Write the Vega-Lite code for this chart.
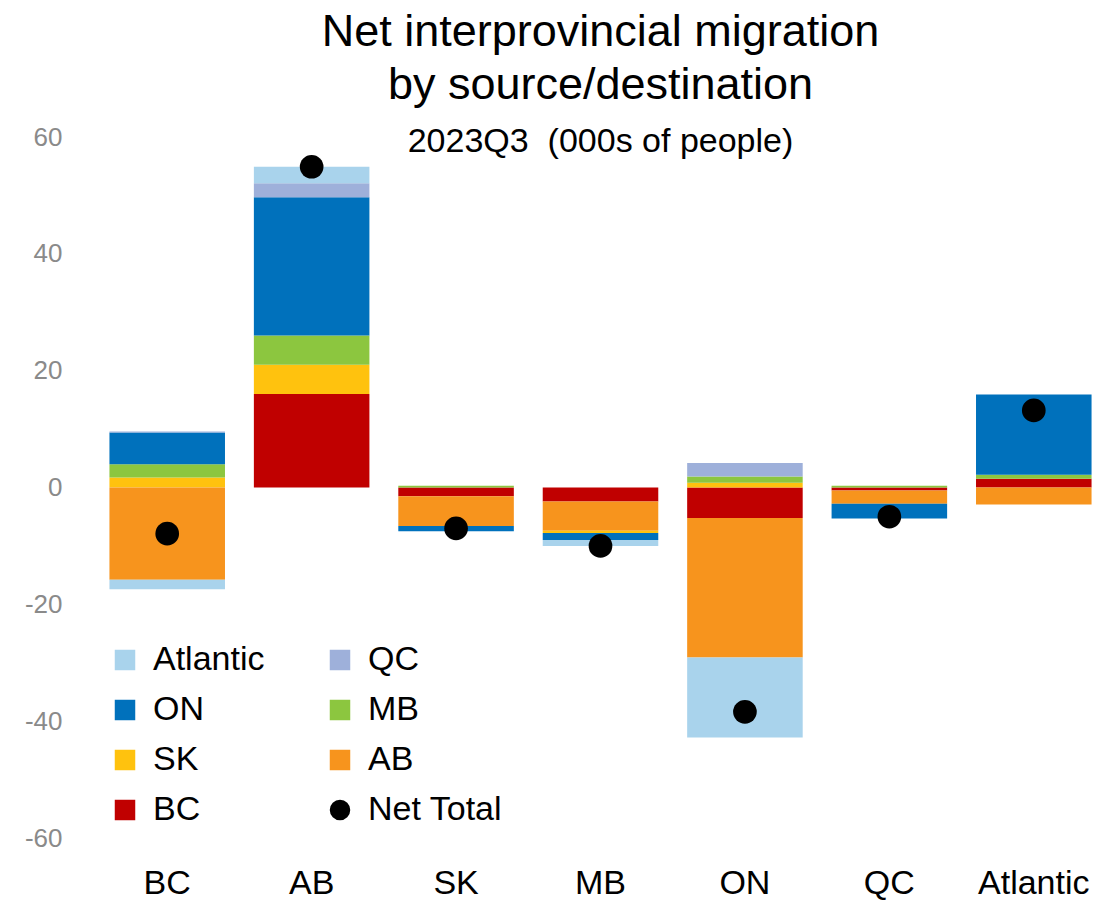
{
  "$schema": "https://vega.github.io/schema/vega-lite/v6.json",
  "width": 1011,
  "height": 701,
  "autosize": {"type": "none"},
  "padding": {"left": 95, "top": 137, "right": 13, "bottom": 69},
  "background": "white",
  "config": {
    "view": {"stroke": null},
    "font": "Liberation Sans"
  },
  "title": {
    "text": ["Net interprovincial migration", "by source/destination"],
    "subtitle": "2023Q3\u00a0 (000s of people)",
    "anchor": "middle",
    "frame": "group",
    "fontSize": 45,
    "fontWeight": "normal",
    "lineHeight": 53,
    "color": "black",
    "subtitleFontSize": 34,
    "subtitleColor": "black",
    "subtitlePadding": 17,
    "offset": -35
  },
  "datasets": {
    "flows": [
      {"prov": "BC", "series": "SK", "value": 1.7, "rank": 3},
      {"prov": "BC", "series": "MB", "value": 2.3, "rank": 4},
      {"prov": "BC", "series": "ON", "value": 5.4, "rank": 5},
      {"prov": "BC", "series": "QC", "value": 0.2, "rank": 6},
      {"prov": "BC", "series": "AB", "value": -15.8, "rank": 2},
      {"prov": "BC", "series": "Atlantic", "value": -1.6, "rank": 7},
      {"prov": "AB", "series": "BC", "value": 16.0, "rank": 1},
      {"prov": "AB", "series": "SK", "value": 5.0, "rank": 3},
      {"prov": "AB", "series": "MB", "value": 5.0, "rank": 4},
      {"prov": "AB", "series": "ON", "value": 23.7, "rank": 5},
      {"prov": "AB", "series": "QC", "value": 2.4, "rank": 6},
      {"prov": "AB", "series": "Atlantic", "value": 2.8, "rank": 7},
      {"prov": "SK", "series": "BC", "value": -1.5, "rank": 1},
      {"prov": "SK", "series": "AB", "value": -5.1, "rank": 2},
      {"prov": "SK", "series": "MB", "value": 0.3, "rank": 4},
      {"prov": "SK", "series": "ON", "value": -0.9, "rank": 5},
      {"prov": "MB", "series": "BC", "value": -2.4, "rank": 1},
      {"prov": "MB", "series": "AB", "value": -5.0, "rank": 2},
      {"prov": "MB", "series": "SK", "value": -0.4, "rank": 3},
      {"prov": "MB", "series": "ON", "value": -1.2, "rank": 5},
      {"prov": "MB", "series": "Atlantic", "value": -1.0, "rank": 7},
      {"prov": "ON", "series": "BC", "value": -5.2, "rank": 1},
      {"prov": "ON", "series": "AB", "value": -23.9, "rank": 2},
      {"prov": "ON", "series": "SK", "value": 0.8, "rank": 3},
      {"prov": "ON", "series": "MB", "value": 1.1, "rank": 4},
      {"prov": "ON", "series": "QC", "value": 2.3, "rank": 6},
      {"prov": "ON", "series": "Atlantic", "value": -13.7, "rank": 7},
      {"prov": "QC", "series": "BC", "value": -0.5, "rank": 1},
      {"prov": "QC", "series": "AB", "value": -2.3, "rank": 2},
      {"prov": "QC", "series": "MB", "value": 0.3, "rank": 4},
      {"prov": "QC", "series": "ON", "value": -2.5, "rank": 5},
      {"prov": "Atlantic", "series": "BC", "value": 1.5, "rank": 1},
      {"prov": "Atlantic", "series": "AB", "value": -2.9, "rank": 2},
      {"prov": "Atlantic", "series": "MB", "value": 0.7, "rank": 4},
      {"prov": "Atlantic", "series": "ON", "value": 13.7, "rank": 5}
    ],
    "net": [
      {"prov": "BC", "series": "Net Total", "value": -7.9},
      {"prov": "AB", "series": "Net Total", "value": 54.9},
      {"prov": "SK", "series": "Net Total", "value": -7.0},
      {"prov": "MB", "series": "Net Total", "value": -10.0},
      {"prov": "ON", "series": "Net Total", "value": -38.4},
      {"prov": "QC", "series": "Net Total", "value": -5.0},
      {"prov": "Atlantic", "series": "Net Total", "value": 13.2}
    ]
  },
  "encoding": {
    "x": {
      "field": "prov",
      "type": "nominal",
      "sort": ["BC", "AB", "SK", "MB", "ON", "QC", "Atlantic"],
      "scale": {"paddingInner": 0.2, "paddingOuter": 0.1},
      "axis": {
        "title": null,
        "labelAngle": 0,
        "labelFontSize": 34,
        "labelColor": "black",
        "labelPadding": 28,
        "ticks": false,
        "tickSize": 0,
        "domain": false,
        "grid": false
      }
    }
  },
  "layer": [
    {
      "data": {"name": "flows"},
      "mark": {"type": "bar"},
      "encoding": {
        "y": {
          "field": "value",
          "type": "quantitative",
          "stack": "zero",
          "scale": {"domain": [-60, 60], "nice": false},
          "axis": {
            "title": null,
            "values": [-60, -40, -20, 0, 20, 40, 60],
            "labelExpr": "datum.value < 0 ? '-' + abs(datum.value) : '' + datum.value",
            "labelFontSize": 26,
            "labelColor": "#8a8a8a",
            "labelPadding": 33,
            "ticks": false,
            "tickSize": 0,
            "domain": false,
            "grid": false
          }
        },
        "order": {"field": "rank", "type": "quantitative"},
        "color": {
          "field": "series",
          "type": "nominal",
          "scale": {
            "domain": ["Atlantic", "QC", "ON", "MB", "SK", "AB", "BC", "Net Total"],
            "range": ["#A9D3EC", "#9EB0DA", "#0071BC", "#8CC63F", "#FFC20E", "#F7941D", "#C00000", "#000000"]
          },
          "legend": {
            "title": null,
            "orient": "none",
            "direction": "horizontal",
            "legendX": 13,
            "legendY": 506,
            "columns": 2,
            "columnPadding": 58,
            "rowPadding": 16,
            "labelFontSize": 34,
            "labelColor": "black",
            "labelOffset": 11,
            "symbolSize": 420,
            "symbolStrokeWidth": 0,
            "encode": {
              "symbols": {
                "update": {
                  "shape": {"signal": "datum.value === 'Net Total' ? 'circle' : 'square'"}
                }
              }
            }
          }
        }
      }
    },
    {
      "mark": {"type": "rule", "color": "#9a9a9a", "strokeWidth": 2},
      "encoding": {
        "y": {"datum": 0, "type": "quantitative"},
        "x": null
      }
    },
    {
      "data": {"name": "net"},
      "mark": {"type": "circle", "size": 560, "opacity": 1},
      "encoding": {
        "y": {"field": "value", "type": "quantitative"},
        "color": {"field": "series", "type": "nominal"}
      }
    }
  ]
}
